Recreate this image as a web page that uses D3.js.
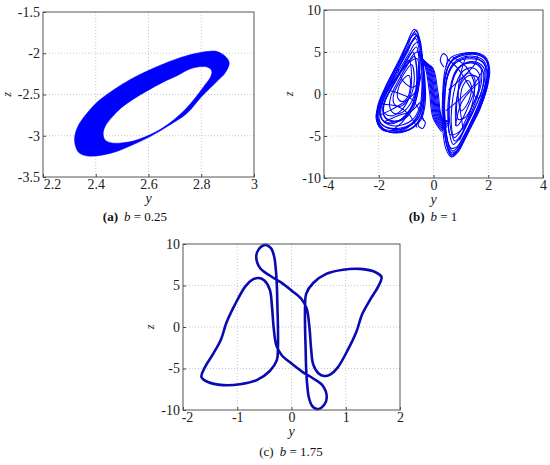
<!DOCTYPE html>
<html><head><meta charset="utf-8">
<script src="https://cdn.jsdelivr.net/npm/d3@7"></script>
<style>body{margin:0;background:#fff}svg{display:block}svg text{font-family:'Liberation Serif','Times New Roman',serif}</style>
</head><body>
<svg id="chart" width="550" height="465"></svg>
<script>
// ---------- data ----------
const aXTicks = [2.2, 2.4, 2.6, 2.8, 3];
const aYTicks = [-3.5, -3, -2.5, -2, -1.5];
const bXTicks = [-4, -2, 0, 2, 4];
const bYTicks = [-10, -5, 0, 5, 10];
const cXTicks = [-2, -1, 0, 1, 2];
const cYTicks = [-10, -5, 0, 5, 10];
const captions = [["(a)", "0.25"], ["(b)", "1"], ["(c)", "1.75"]];

// (a) band: outer boundary and inner hole (y, z)
const aOuter = [[2.82,-1.98],[2.86,-1.98],[2.895,-2.05],[2.906,-2.12],[2.89,-2.24],[2.86,-2.34],[2.80,-2.53],[2.745,-2.73],[2.68,-2.87],[2.606,-3.01],[2.54,-3.11],[2.479,-3.19],[2.43,-3.23],[2.40,-3.245],[2.36,-3.24],[2.335,-3.20],[2.322,-3.11],[2.321,-3.00],[2.335,-2.87],[2.366,-2.73],[2.41,-2.58],[2.467,-2.445],[2.53,-2.32],[2.606,-2.20],[2.68,-2.10],[2.745,-2.03]];
const aInner = [[2.79,-2.165],[2.825,-2.17],[2.84,-2.215],[2.835,-2.29],[2.815,-2.38],[2.78,-2.53],[2.74,-2.68],[2.695,-2.81],[2.644,-2.925],[2.59,-3.01],[2.542,-3.065],[2.49,-3.09],[2.457,-3.085],[2.435,-3.05],[2.428,-2.98],[2.435,-2.89],[2.46,-2.78],[2.497,-2.66],[2.545,-2.55],[2.598,-2.45],[2.655,-2.35],[2.71,-2.27],[2.75,-2.20]];

// (b) double scroll (y, z)
const bLeftLoops = [
 [[-0.62,7.6],[-0.45,5.2],[-0.32,2.0],[-0.3,-1.0],[-0.45,-3.0],[-0.9,-4.3],[-1.5,-4.6],[-1.95,-3.9],[-2.08,-2.6],[-1.9,-0.6],[-1.5,2.2],[-1.0,5.2],[-0.78,7.0]],
 [[-0.6,7.0],[-0.42,4.6],[-0.35,1.6],[-0.38,-1.2],[-0.6,-3.1],[-1.0,-4.0],[-1.5,-4.2],[-1.9,-3.6],[-2.0,-2.3],[-1.8,-0.2],[-1.4,2.4],[-0.95,5.0],[-0.75,6.5]],
 [[-0.55,6.2],[-0.45,4.0],[-0.42,1.0],[-0.5,-1.5],[-0.75,-3.0],[-1.15,-3.7],[-1.6,-3.7],[-1.88,-3.0],[-1.92,-1.8],[-1.7,0.2],[-1.3,2.6],[-0.9,4.8],[-0.7,5.9]],
 [[-0.62,5.6],[-0.52,3.5],[-0.55,0.8],[-0.7,-1.4],[-1.0,-2.8],[-1.4,-3.3],[-1.75,-2.9],[-1.85,-1.8],[-1.7,-0.2],[-1.35,1.8],[-1.0,3.8],[-0.75,5.2]],
 [[-0.7,4.5],[-0.6,2.6],[-0.65,0.5],[-0.85,-1.2],[-1.15,-2.2],[-1.45,-2.3],[-1.6,-1.5],[-1.55,-0.2],[-1.3,1.5],[-1.0,3.2],[-0.8,4.2]],
 [[-0.8,3.5],[-0.7,1.8],[-0.78,0.2],[-1.0,-1.0],[-1.25,-1.5],[-1.45,-1.1],[-1.45,0.0],[-1.25,1.4],[-1.0,2.8]],
 [[-0.68,7.3],[-0.5,5.8],[-0.38,3.4],[-0.33,0.4],[-0.4,-2.2],[-0.7,-3.8],[-1.2,-4.5],[-1.7,-4.4],[-2.0,-3.4],[-2.05,-1.6],[-1.75,0.9],[-1.3,3.6],[-0.9,6.3]],
 [[-0.65,6.6],[-0.48,4.4],[-0.4,1.2],[-0.48,-1.8],[-0.8,-3.5],[-1.3,-4.1],[-1.75,-3.9],[-2.02,-3.0],[-1.98,-1.2],[-1.6,1.2],[-1.15,4.0],[-0.82,6.0]],
 [[-0.9,2.2],[-0.85,0.8],[-0.95,-0.4],[-1.15,-0.9],[-1.3,-0.5],[-1.3,0.5],[-1.15,1.6]],
 [[-0.58,6.9],[-0.44,4.9],[-0.36,2.2],[-0.36,-0.6],[-0.52,-2.6],[-0.95,-3.9],[-1.45,-4.35],[-1.85,-4.1],[-2.04,-3.1],[-1.95,-1.4],[-1.6,1.0],[-1.15,3.9],[-0.8,6.2]],
 [[-0.75,5.0],[-0.62,3.0],[-0.62,0.6],[-0.8,-1.6],[-1.1,-2.9],[-1.5,-3.2],[-1.8,-2.6],[-1.8,-1.2],[-1.55,0.6],[-1.2,2.8],[-0.9,4.5]],
 [[-0.7,7.7],[-0.5,6.5],[-0.4,4.0],[-0.35,1.0],[-0.5,-2.0],[-0.9,-3.9],[-1.4,-4.5],[-1.9,-4.2],[-2.1,-2.8],[-1.95,-0.8],[-1.55,1.8],[-1.1,4.8],[-0.85,7.0]],
 [[-0.55,5.0],[-0.5,2.5],[-0.6,-0.2],[-0.9,-2.2],[-1.3,-3.2],[-1.7,-3.4],[-1.95,-2.6],[-1.9,-1.0],[-1.55,1.0],[-1.0,3.4],[-0.7,4.8]],
 [[-0.9,4.0],[-0.8,2.0],[-0.9,-0.5],[-1.2,-2.0],[-1.6,-2.6],[-1.85,-2.0],[-1.75,-0.6],[-1.4,1.4],[-1.1,3.2]],
 [[-0.66,7.1],[-0.47,5.4],[-0.37,2.8],[-0.34,-0.2],[-0.43,-2.6],[-0.8,-4.1],[-1.35,-4.55],[-1.8,-4.3],[-2.06,-3.2],[-2.0,-1.3],[-1.68,1.3],[-1.22,4.3],[-0.86,6.6]],
 [[-0.6,4.2],[-0.55,1.8],[-0.7,-0.8],[-1.05,-2.6],[-1.45,-3.5],[-1.8,-3.3],[-1.96,-2.2],[-1.8,-0.4],[-1.4,1.8],[-0.95,3.6]]
];
const bLeftStrands = [
 [[-1.95,-2.5],[-1.5,-1.8],[-1.0,-0.8],[-0.6,0.5],[-0.45,2.5]],
 [[-1.8,-3.3],[-1.3,-2.6],[-0.8,-2.0],[-0.5,-1.0]],
 [[-1.5,-4.3],[-1.1,-3.2],[-0.8,-1.5],[-0.6,1.0],[-0.55,3.5]],
 [[-1.9,-1.2],[-1.3,-1.5],[-0.9,-2.4],[-0.7,-3.4],[-0.6,-4.0]],
 [[-0.52,-3.0],[-0.55,-3.8],[-0.4,-4.1],[-0.3,-3.4],[-0.42,-2.9]],
 [[-1.7,0.5],[-1.2,0.0],[-0.8,-0.6],[-0.5,-2.0],[-0.35,-3.2]],
 [[-1.3,3.0],[-1.1,1.5],[-0.75,0.8],[-0.5,1.5]]
];
const bRightLoops = [
 [[0.67,-7.4],[0.5,-6.2],[0.38,-3.5],[0.35,-0.5],[0.45,2.5],[0.7,4.0],[1.1,4.6],[1.55,4.7],[1.9,4.1],[2.02,2.8],[1.95,0.8],[1.7,-1.8],[1.3,-4.3],[0.95,-6.5]],
 [[0.7,-6.8],[0.52,-5.6],[0.42,-3.0],[0.42,0],[0.55,2.6],[0.85,3.8],[1.3,4.2],[1.75,3.9],[1.95,2.7],[1.9,0.6],[1.62,-1.9],[1.25,-4.2],[0.95,-6.0]],
 [[0.72,-6.0],[0.58,-4.6],[0.52,-2.2],[0.6,0.6],[0.82,2.8],[1.2,3.7],[1.6,3.6],[1.82,2.6],[1.78,0.6],[1.52,-1.6],[1.2,-3.8],[0.95,-5.3]],
 [[0.75,-5.2],[0.65,-3.6],[0.68,-1.2],[0.82,1.2],[1.1,2.8],[1.45,3.1],[1.68,2.3],[1.65,0.5],[1.42,-1.4],[1.15,-3.3],[0.95,-4.6]],
 [[0.85,-3.8],[0.8,-2.0],[0.88,0],[1.05,1.8],[1.3,2.5],[1.5,1.9],[1.48,0.3],[1.28,-1.4],[1.05,-3.0]],
 [[0.68,-7.2],[0.48,-5.9],[0.36,-2.5],[0.38,1.0],[0.6,3.6],[0.95,4.6],[1.4,4.9],[1.78,4.5],[2.0,3.3],[1.9,1.2],[1.65,-1.2],[1.3,-3.8],[1.0,-6.0]],
 [[0.62,-6.4],[0.46,-4.8],[0.4,-1.5],[0.48,1.6],[0.7,3.3],[1.05,4.2],[1.5,4.3],[1.85,3.6],[1.92,2.0],[1.78,-0.3],[1.45,-2.8],[1.1,-5.0],[0.85,-6.3]],
 [[1.0,-2.0],[0.98,-0.5],[1.08,1.0],[1.25,1.6],[1.38,1.0],[1.35,-0.2],[1.2,-1.4]],
 [[0.66,-7.0],[0.5,-5.4],[0.4,-2.0],[0.44,1.2],[0.66,3.4],[1.0,4.3],[1.45,4.5],[1.82,4.0],[1.98,2.5],[1.85,0.2],[1.55,-2.4],[1.2,-4.8],[0.9,-6.6]],
 [[0.78,-5.6],[0.62,-4.0],[0.58,-1.0],[0.72,1.8],[1.0,3.3],[1.38,3.7],[1.72,3.1],[1.75,1.4],[1.55,-0.8],[1.25,-3.2],[1.0,-4.9]],
 [[0.65,-7.5],[0.45,-6.5],[0.33,-3.8],[0.33,-0.5],[0.42,2.8],[0.62,4.3],[1.0,4.8],[1.55,4.9],[1.9,4.4],[2.05,3.0],[1.95,0.6],[1.6,-2.4],[1.2,-5.0],[0.9,-6.9]],
 [[0.6,-4.8],[0.55,-2.8],[0.6,-0.2],[0.78,2.4],[1.1,3.6],[1.55,3.8],[1.85,3.0],[1.85,1.4],[1.6,-1.0],[1.25,-3.2],[0.9,-4.6]],
 [[0.9,-3.0],[0.85,-1.0],[1.0,1.2],[1.3,2.2],[1.6,2.0],[1.65,0.6],[1.45,-1.2],[1.15,-2.8]],
 [[0.64,-7.3],[0.47,-6.0],[0.37,-3.0],[0.37,0.4],[0.52,3.2],[0.8,4.4],[1.25,4.8],[1.7,4.7],[1.97,3.8],[2.0,2.0],[1.82,-0.5],[1.45,-3.3],[1.05,-5.9]]
];
const bRightStrands = [
 [[0.5,4.2],[0.9,3.0],[1.3,1.0],[1.6,-0.5],[1.9,0.5]],
 [[1.2,4.6],[1.0,2.5],[0.9,0.0],[1.0,-2.5],[1.1,-4.5]],
 [[0.45,-2.0],[0.9,-0.8],[1.4,0.8],[1.8,2.8]],
 [[0.7,4.4],[1.2,3.2],[1.5,1.0],[1.35,-2.0],[0.95,-5.5]],
 [[0.45,3.2],[0.5,4.4],[0.35,4.8],[0.25,4.0],[0.38,3.2]],
 [[0.55,0.5],[1.0,1.8],[1.5,3.5],[1.6,4.6]],
 [[1.7,1.5],[1.3,0.2],[1.0,-1.2],[0.8,-3.8]]
];
const bBridges = [
 [[-0.6,5.2],[-0.32,3.4],[-0.15,0.3],[-0.02,-2.8],[0.3,-4.5]],
 [[-0.58,5.0],[-0.29,3.4],[-0.11,0.3],[0.02,-2.8],[0.34,-4.4]],
 [[-0.55,4.8],[-0.26,3.4],[-0.08,0.3],[0.06,-2.8],[0.38,-4.3]],
 [[-0.52,4.6],[-0.23,3.4],[-0.05,0.3],[0.10,-2.8],[0.42,-4.2]],
 [[-0.5,4.4],[-0.2,3.4],[-0.02,0.3],[0.14,-2.8],[0.46,-4.1]],
 [[-0.48,4.2],[-0.17,3.4],[0.01,0.3],[0.18,-2.8],[0.5,-4.0]],
 [[-0.46,4.0],[-0.14,3.35],[0.04,0.3],[0.22,-2.8],[0.52,-3.8]],
 [[-0.44,3.8],[-0.11,3.3],[0.08,0.3],[0.26,-2.85],[0.55,-3.6]],
 [[-0.42,3.6],[-0.08,3.25],[0.12,0.3],[0.30,-2.9],[0.58,-3.4]],
 [[-0.4,3.4],[-0.05,3.2],[0.16,0.3],[0.33,-2.95],[0.6,-3.2]]
];

// (c) closed orbit (y, z)
const cOrbit = [[-0.48,9.9],[-0.38,9.5],[-0.32,8.5],[-0.29,7.0],[-0.27,5.0],[-0.26,2.5],[-0.25,0],[-0.25,-2.5],[-0.27,-4.0],[-0.40,-5.3],[-0.64,-6.4],[-0.95,-6.9],[-1.26,-7.0],[-1.55,-6.6],[-1.66,-6.0],[-1.6,-4.9],[-1.45,-3.3],[-1.3,-1.5],[-1.2,0.5],[-1.05,2.6],[-0.85,4.9],[-0.72,5.7],[-0.6,5.9],[-0.5,5.6],[-0.4,4.5],[-0.36,2.5],[-0.33,0],[-0.28,-2.2],[-0.18,-3.4],[0.0,-4.4],[0.2,-5.4],[0.4,-6.2],[0.58,-7.1],[0.65,-8.5],[0.6,-9.4],[0.48,-9.9],[0.38,-9.5],[0.32,-8.5],[0.29,-7.0],[0.27,-5.0],[0.26,-2.5],[0.25,0],[0.25,2.5],[0.27,4.0],[0.40,5.3],[0.64,6.4],[0.95,6.9],[1.26,7.0],[1.55,6.6],[1.66,6.0],[1.6,4.9],[1.45,3.3],[1.3,1.5],[1.2,-0.5],[1.05,-2.6],[0.85,-4.9],[0.72,-5.7],[0.6,-5.9],[0.5,-5.6],[0.4,-4.5],[0.36,-2.5],[0.33,0],[0.28,2.2],[0.18,3.4],[0.0,4.4],[-0.2,5.4],[-0.4,6.2],[-0.58,7.1],[-0.65,8.5],[-0.6,9.4]];

// ---------- drawing ----------
const svg = d3.select("#chart");
const SERIF = "'Liberation Serif','Times New Roman',serif";

function panel(o) {
  const x = d3.scaleLinear().domain(o.xd).range([o.x0, o.x1]);
  const y = d3.scaleLinear().domain(o.yd).range([o.y1, o.y0]);
  const g = svg.append("g");
  g.selectAll(".gx").data(o.xt.slice(1, -1)).join("line")
    .attr("x1", d => x(d)).attr("x2", d => x(d)).attr("y1", o.y0).attr("y2", o.y1)
    .attr("stroke", "#b8b8b8").attr("stroke-width", 0.8).attr("stroke-dasharray", "1,2");
  g.selectAll(".gy").data(o.yt.slice(1, -1)).join("line")
    .attr("y1", d => y(d)).attr("y2", d => y(d)).attr("x1", o.x0).attr("x2", o.x1)
    .attr("stroke", "#b8b8b8").attr("stroke-width", 0.8).attr("stroke-dasharray", "1,2");
  const plot = g.append("g");
  const ax = g.append("g").attr("transform", `translate(0,${o.y1})`)
    .call(d3.axisBottom(x).tickValues(o.xt).tickSizeInner(-3).tickSizeOuter(0).tickPadding(3).tickFormat(d => String(d)));
  const ay = g.append("g").attr("transform", `translate(${o.x0},0)`)
    .call(d3.axisLeft(y).tickValues(o.yt).tickSizeInner(-3).tickSizeOuter(0).tickPadding(3).tickFormat(d => String(d)));
  [ax, ay].forEach(a => {
    a.attr("font-family", SERIF).attr("font-size", 14);
    a.select(".domain").remove();
    a.selectAll("line").attr("stroke", "#444");
    a.selectAll("text").style("font-family", SERIF).attr("font-size", 14).attr("fill", "#222");
  });
  ax.selectAll("text").attr("dy", "0.62em");
  // first x label nudged right so it clears the bottom y label
  ax.selectAll("text").filter((d, i) => i === 0).attr("dx", o.firstShift);
  g.append("rect").attr("x", o.x0).attr("y", o.y0).attr("width", o.x1 - o.x0).attr("height", o.y1 - o.y0)
    .attr("fill", "none").attr("stroke", "#555").attr("stroke-width", 1);
  g.append("text").attr("x", (o.x0 + o.x1) / 2).attr("y", o.y1 + 26).attr("text-anchor", "middle")
    .attr("font-style", "italic").attr("font-size", 14).attr("fill", "#222").text("y");
  g.append("text").attr("transform", `translate(${o.zx},${(o.y0 + o.y1) / 2}) rotate(-90)`).attr("text-anchor", "middle")
    .attr("dy", "0.35em").attr("font-style", "italic").attr("font-size", 12).attr("fill", "#222").text("z");
  const cap = g.append("text").attr("x", o.capx).attr("y", o.capy).attr("text-anchor", "middle")
    .attr("font-size", 13).attr("fill", "#111");
  cap.append("tspan").attr("font-weight", o.bold ? "bold" : "normal").text(o.cap[0]);
  cap.append("tspan").attr("dx", 6).attr("font-style", "italic").text("b");
  cap.append("tspan").text(" = " + o.cap[1]);
  return {x, y, plot};
}

// (a)
const A = panel({xd:[2.2,3], yd:[-3.5,-1.5], x0:43, x1:254, y0:12, y1:177, xt:aXTicks, yt:aYTicks, zx:7, capx:135, capy:221, cap:captions[0], bold:true, firstShift:9});
const lineA = d3.line().x(d => A.x(d[0])).y(d => A.y(d[1])).curve(d3.curveCatmullRomClosed);
A.plot.append("path").attr("d", lineA(aOuter) + lineA(aInner))
  .attr("fill", "#0000ff").attr("fill-rule", "evenodd").attr("stroke", "#0000ff").attr("stroke-width", 0.6);

// (b)
const B = panel({xd:[-4,4], yd:[-10,10], x0:324, x1:543, y0:10, y1:178, xt:bXTicks, yt:bYTicks, zx:289, capx:433, capy:221, cap:captions[1], bold:true, firstShift:4});
const lineBc = d3.line().x(d => B.x(d[0])).y(d => B.y(d[1])).curve(d3.curveCatmullRomClosed);
const lineBo = d3.line().x(d => B.x(d[0])).y(d => B.y(d[1])).curve(d3.curveCatmullRom);
B.plot.selectAll(".l").data(bLeftLoops.concat(bRightLoops)).join("path")
  .attr("d", d => lineBc(d)).attr("fill", "none").attr("stroke", "#0000ff").attr("stroke-width", 1.05);
B.plot.selectAll(".s").data(bBridges.concat(bLeftStrands, bRightStrands)).join("path")
  .attr("d", d => lineBo(d)).attr("fill", "none").attr("stroke", "#0000ff").attr("stroke-width", 1.05);

// (c)
const C = panel({xd:[-2,2], yd:[-10,10], x0:183, x1:400, y0:244, y1:410, xt:cXTicks, yt:cYTicks, zx:150, capx:291, capy:456, cap:captions[2], bold:false, firstShift:4});
const lineC = d3.line().x(d => C.x(d[0])).y(d => C.y(d[1])).curve(d3.curveCatmullRomClosed);
C.plot.append("path").attr("d", lineC(cOrbit)).attr("fill", "none").attr("stroke", "#0a0ab4").attr("stroke-width", 2.6);
</script>
</body></html>
